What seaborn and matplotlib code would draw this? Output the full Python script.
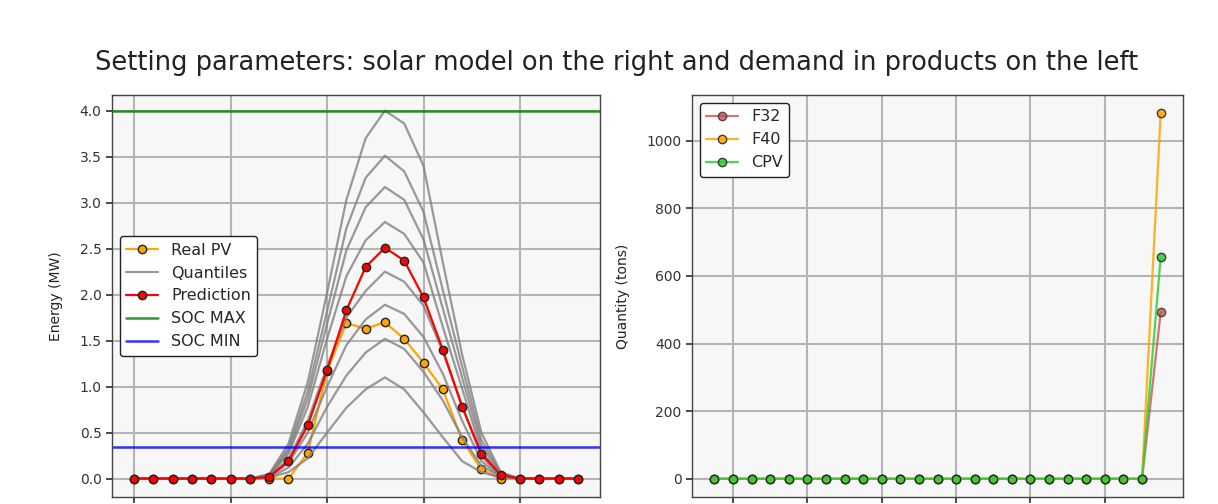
import matplotlib
matplotlib.use("Agg")
import matplotlib.pyplot as plt
import seaborn as sns

# ---------------- data ----------------
hours = list(range(24))
real_pv = [0, 0, 0, 0, 0, 0, 0, 0, 0.0, 0.28, 1.17, 1.69, 1.63, 1.70, 1.52, 1.26,
           0.97, 0.42, 0.10, 0.0, 0, 0, 0, 0]
prediction = [0, 0, 0, 0, 0, 0, 0, 0.02, 0.19, 0.58, 1.18, 1.83, 2.30, 2.51, 2.37, 1.97,
              1.40, 0.78, 0.27, 0.04, 0, 0, 0, 0]
q1 = [0, 0, 0, 0, 0, 0, 0, 0.01, 0.07, 0.22, 0.50, 0.77, 0.97, 1.10, 0.97, 0.72, 0.45, 0.19, 0.07, 0.01, 0, 0, 0, 0]
q2 = [0, 0, 0, 0, 0, 0, 0, 0.01, 0.12, 0.38, 0.78, 1.12, 1.37, 1.52, 1.41, 1.16, 0.85, 0.45, 0.14, 0.02, 0, 0, 0, 0]
q3 = [0, 0, 0, 0, 0, 0, 0, 0.02, 0.17, 0.50, 1.00, 1.45, 1.73, 1.89, 1.79, 1.54, 1.14, 0.63, 0.19, 0.02, 0, 0, 0, 0]
q4 = [0, 0, 0, 0, 0, 0, 0, 0.02, 0.21, 0.63, 1.22, 1.75, 2.04, 2.25, 2.14, 1.88, 1.38, 0.80, 0.24, 0.03, 0, 0, 0, 0]
q5 = [0, 0, 0, 0, 0, 0, 0, 0.03, 0.27, 0.78, 1.52, 2.20, 2.59, 2.79, 2.66, 2.35, 1.65, 0.98, 0.30, 0.04, 0, 0, 0, 0]
q6 = [0, 0, 0, 0, 0, 0, 0, 0.04, 0.30, 0.87, 1.68, 2.48, 2.95, 3.17, 3.03, 2.60, 1.85, 1.10, 0.36, 0.05, 0, 0, 0, 0]
q7 = [0, 0, 0, 0, 0, 0, 0, 0.04, 0.33, 0.95, 1.82, 2.72, 3.27, 3.51, 3.34, 2.90, 2.05, 1.22, 0.42, 0.06, 0, 0, 0, 0]
q8 = [0, 0, 0, 0, 0, 0, 0, 0.05, 0.38, 1.05, 2.02, 3.03, 3.70, 4.00, 3.86, 3.40, 2.35, 1.35, 0.50, 0.07, 0, 0, 0, 0]
quantiles = [q1, q2, q3, q4, q5, q6, q7, q8]
soc_max = 4.0
soc_min = 0.345

periods = list(range(25))
f32 = [0, 0, 0, 0, 0, 0, 0, 0, 0, 0, 0, 0, 0, 0, 0, 0, 0, 0, 0, 0, 0, 0, 0, 0, 492]
f40 = [0, 0, 0, 0, 0, 0, 0, 0, 0, 0, 0, 0, 0, 0, 0, 0, 0, 0, 0, 0, 0, 0, 0, 0, 1081]
cpv = [0, 0, 0, 0, 0, 0, 0, 0, 0, 0, 0, 0, 0, 0, 0, 0, 0, 0, 0, 0, 0, 0, 0, 0, 655]

title = "Setting parameters: solar model on the right and demand in products on the left"

# ---------------- style ----------------
sns.set_theme(style="whitegrid")
plt.rcParams.update({
    "font.family": ["DejaVu Sans"],
    "axes.facecolor": "#f7f7f7",
    "axes.edgecolor": "#444444",
    "axes.linewidth": 1.0,
    "grid.color": "#b4b4b4",
    "grid.linewidth": 1.5,
    "xtick.bottom": True,
    "ytick.left": True,
    "xtick.major.size": 4,
    "ytick.major.size": 4,
    "xtick.color": "#333333",
    "ytick.color": "#333333",
    "xtick.labelsize": 10,
    "ytick.labelsize": 10,
    "axes.labelsize": 10,
    "axes.labelcolor": "#222222",
})

fig = plt.figure(figsize=(12.18, 5.04), dpi=100)
ax1 = fig.add_axes([112 / 1218, 7 / 504, 488 / 1218, 402 / 504])
ax2 = fig.add_axes([692 / 1218, 7 / 504, 491 / 1218, 402 / 504])

mk = dict(marker="o", markersize=6, markeredgecolor="#222222", markeredgewidth=1.0)

# left chart
sns.lineplot(x=hours, y=real_pv, ax=ax1, color="orange", lw=1.6,
             markerfacecolor="orange", label="Real PV", **mk)
for i, q in enumerate(quantiles):
    sns.lineplot(x=hours, y=q, ax=ax1, color="gray", lw=1.6, alpha=0.8,
                 label="Quantiles" if i == 0 else "_nolegend_")
sns.lineplot(x=hours, y=prediction, ax=ax1, color="red", lw=1.6,
             markerfacecolor="red", label="Prediction", **mk)
ax1.axhline(soc_max, color="green", lw=1.8, alpha=0.8, label="SOC MAX")
ax1.axhline(soc_min, color="blue", lw=1.8, alpha=0.8, label="SOC MIN")
ax1.set_ylim(-0.2, 4.17)
ax1.set_xticks([0, 5, 10, 15, 20])
ax1.set_yticks([0, 0.5, 1.0, 1.5, 2.0, 2.5, 3.0, 3.5, 4.0])
ax1.set_ylabel("Energy (MW)", labelpad=12)
ax1.set_xlabel("")
leg1 = ax1.legend(loc="center left", fontsize=11.5, frameon=True, fancybox=True,
                  edgecolor="#222222", facecolor="white", framealpha=1.0)
leg1.get_frame().set_linewidth(1.0)

# right chart
sns.lineplot(x=periods, y=f32, ax=ax2, color="#c84848", alpha=0.75, lw=1.6,
             markerfacecolor="#c84848", label="F32", **mk)
sns.lineplot(x=periods, y=f40, ax=ax2, color="orange", alpha=0.85, lw=1.6,
             markerfacecolor="orange", label="F40", **mk)
sns.lineplot(x=periods, y=cpv, ax=ax2, color="limegreen", alpha=0.85, lw=1.6,
             markerfacecolor="limegreen", label="CPV", **mk)
ax2.set_ylim(-54, 1135)
ax2.set_xticks([1, 5, 9, 13, 17, 21])
ax2.set_yticks([0, 200, 400, 600, 800, 1000])
ax2.set_ylabel("Quantity (tons)", labelpad=12)
ax2.set_xlabel("")
leg2 = ax2.legend(loc="upper left", fontsize=11.5, frameon=True, fancybox=True,
                  edgecolor="#222222", facecolor="white", framealpha=1.0)
leg2.get_frame().set_linewidth(1.0)

for ax in (ax1, ax2):
    ax.tick_params(axis="x", labelbottom=False)
    for s in ax.spines.values():
        s.set_visible(True)
        s.set_color("#444444")

fig.suptitle(title, fontsize=18.5, x=0.506, y=0.875, va="center", color="#222222")

fig.savefig("out.png", dpi=100)
